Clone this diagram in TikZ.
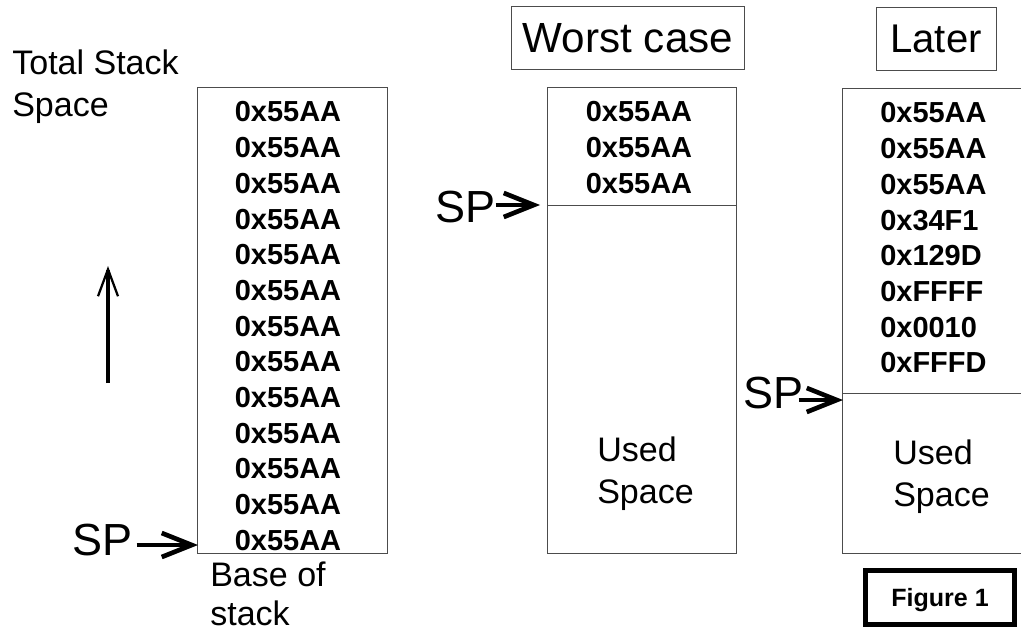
\documentclass[tikz,border=0pt]{standalone}
\usepackage{fontspec}
\setmainfont{Liberation Sans}
\usepackage{tikz}
\usetikzlibrary{positioning,arrows.meta}
\newcommand{\lblfont}{\fontsize{24.2pt}{29.9pt}\selectfont}
\newcommand{\hexfont}{\fontsize{20.6pt}{25pt}\selectfont\bfseries}
\newcommand{\spfont}{\fontsize{32pt}{38pt}\selectfont}
\newcommand{\ttlfont}{\fontsize{28.5pt}{34pt}\selectfont}
\newcommand{\figfont}{\fontsize{17.8pt}{21pt}\selectfont\bfseries}
\tikzset{stackbox/.style={rectangle, draw=black!70, line width=0.7pt, inner sep=0pt}}
\tikzset{hexval/.style={font=\hexfont, inner sep=0pt}}
\tikzset{txtlbl/.style={font=\lblfont, align=left, inner sep=0pt, anchor=north west}}
\tikzset{sptext/.style={font=\spfont, inner sep=0pt, anchor=base west}}
\tikzset{ttlbox/.style={rectangle, draw=black!70, line width=0.7pt, font=\ttlfont, inner sep=0pt}}
\tikzset{figbox/.style={rectangle, draw, line width=3.5pt, font=\figfont, inner sep=0pt, text depth=0pt}}
\tikzset{sparrow/.style={line width=3.3pt, -{Straight Barb[length=0.75cm,width=0.6cm]}}}
\tikzset{uparrow/.style={line width=2.6pt, -{Straight Barb[length=0.675cm,width=0.5cm,line width=1.6pt]}}}

\begin{document}
\begin{tikzpicture}[x=0.025cm, y=-0.025cm]
  \useasboundingbox (0,0) rectangle (1021,631);
  % the three stacks
  \node[stackbox, minimum width=4.725cm, minimum height=11.625cm] (full) at (292.5,320.5) {};
  \node[stackbox, minimum width=4.7cm, minimum height=11.625cm] (worst) at (642,320.5) {};
  \node[stackbox, minimum width=5cm, minimum height=11.6cm] (later) at (943,321) {};
  \draw[black!70, line width=0.7pt] (548,205) -- (736,205);
  \draw[black!70, line width=0.7pt] (843,393) -- (1043,393);
  % stack contents
  \foreach \i in {0,...,12}
    \node[hexval] (fa\i) at (288,{112+35.7*\i}) {0x55AA};
  \foreach \i in {0,1,2}
    \node[hexval] (wa\i) at (639,{112+35.7*\i}) {0x55AA};
  \foreach \v [count=\i from 0] in {0x55AA,0x55AA,0x55AA,0x34F1,0x129D,0xFFFF,0x0010,0xFFFD}
    \node[hexval, anchor=west] (la\i) at (880,{113+35.7*\i}) {\v};
  % labels
  \node[txtlbl] (total) at (12,50) {Total Stack\\Space};
  \node[txtlbl] (base) at (210,562) {Base of\\[-2.8pt]stack};
  \node[txtlbl] (usedW) at (597,437) {Used\\Space};
  \node[txtlbl] (usedL) at (893,440) {Used\\Space};
  \node[ttlbox, font=\fontsize{30pt}{36pt}\selectfont, minimum width=5.8cm, minimum height=1.55cm] (wctitle) at (628,38) {Worst case};
  \node[ttlbox, minimum width=3cm, minimum height=1.575cm] (lttitle) at (936,39) {Later};
  \node[figbox, minimum width=3.725cm, minimum height=1.35cm] (fig) at (940,597.5) {Figure 1};
  % growth direction
  \coordinate (growBot) at (108,383);
  \coordinate (growTop) at (108,266);
  \draw[uparrow] (growBot) -- (growTop);
  % stack pointers
  \node[sptext] (spF) at (72,555) {SP};
  \node[sptext] (spW) at (435,222) {SP};
  \node[sptext] (spL) at (743,408) {SP};
  \coordinate (tipF) at (198,545);
  \coordinate (tipW) at (540,205);
  \coordinate (tipL) at (843,400);
  \draw[sparrow, shorten <=0.1cm] (spF.east |- tipF) -- (tipF);
  \draw[sparrow] (spW.east |- tipW) -- (tipW);
  \draw[sparrow, shorten <=-0.125cm] (spL.east |- tipL) -- (tipL);
\end{tikzpicture}
\end{document}
